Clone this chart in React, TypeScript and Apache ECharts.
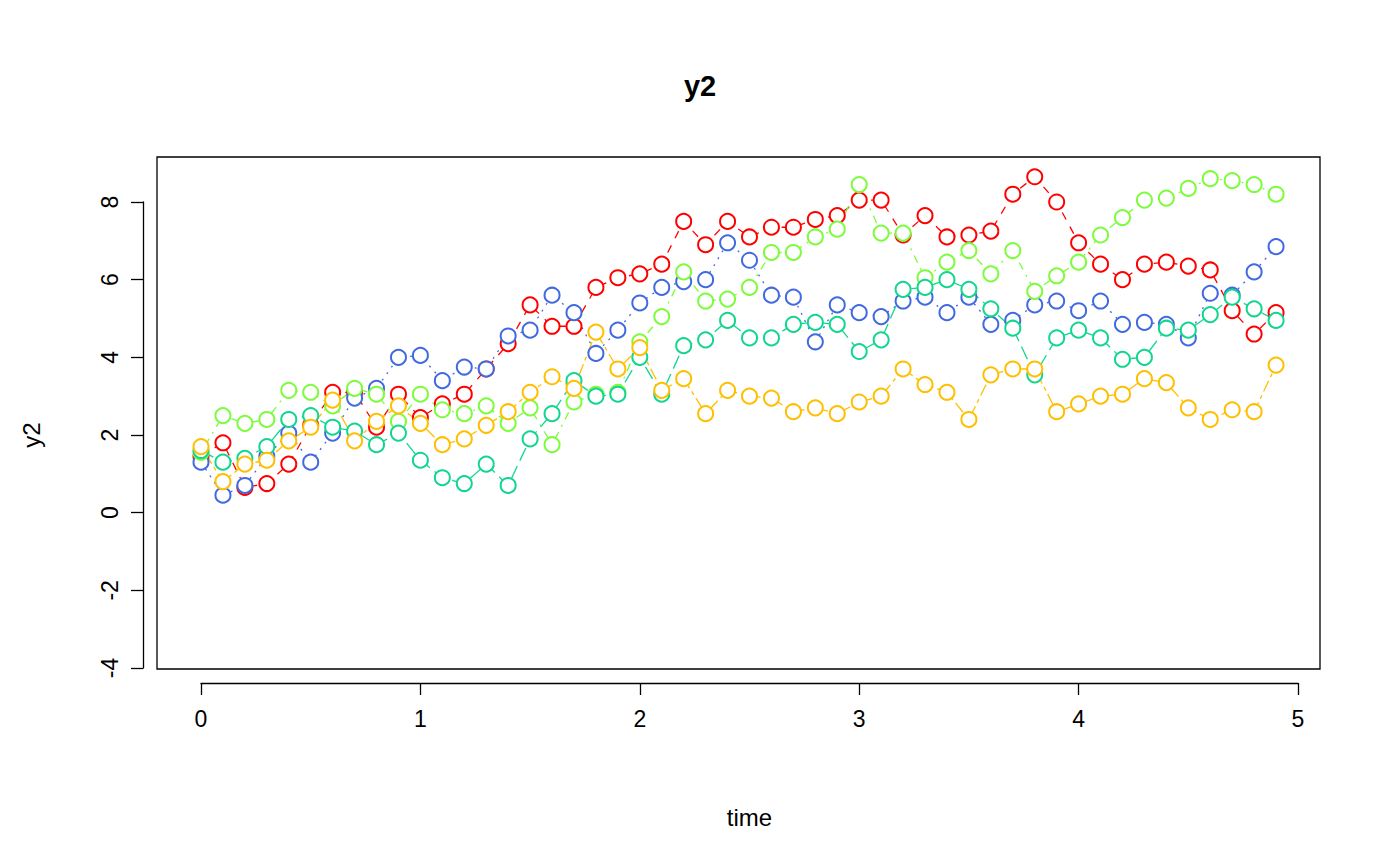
import React, { useEffect, useRef } from 'react';
import * as echarts from 'echarts';

const time = [
  0, 0.1, 0.2, 0.3, 0.4, 0.5, 0.6, 0.7, 0.8, 0.9, 1, 1.1, 1.2, 1.3, 1.4, 1.5, 1.6, 1.7, 1.8, 1.9,
  2, 2.1, 2.2, 2.3, 2.4, 2.5, 2.6, 2.7, 2.8, 2.9, 3, 3.1, 3.2, 3.3, 3.4, 3.5, 3.6, 3.7, 3.8, 3.9,
  4, 4.1, 4.2, 4.3, 4.4, 4.5, 4.6, 4.7, 4.8, 4.9,
];

const redSeries = [
  1.45, 1.8, 0.65, 0.75, 1.25, 2.25, 3.1, 3.1, 2.2, 3.05, 2.45, 2.8, 3.05, 3.7, 4.35, 5.35, 4.8, 4.8, 5.8, 6.05,
  6.15, 6.4, 7.5, 6.9, 7.5, 7.1, 7.35, 7.35, 7.55, 7.65, 8.05, 8.05, 7.15, 7.65, 7.1, 7.15, 7.25, 8.2, 8.65, 8.0,
  6.95, 6.4, 6.0, 6.4, 6.45, 6.35, 6.25, 5.2, 4.6, 5.15,
];
const blueSeries = [
  1.3, 0.45, 0.7, 1.45, 2.05, 1.3, 2.05, 2.95, 3.2, 4.0, 4.05, 3.4, 3.75, 3.7, 4.55, 4.7, 5.6, 5.15, 4.1, 4.7,
  5.4, 5.8, 5.95, 6.0, 6.95, 6.5, 5.6, 5.55, 4.4, 5.35, 5.15, 5.05, 5.45, 5.55, 5.15, 5.55, 4.85, 4.95, 5.35, 5.45,
  5.2, 5.45, 4.85, 4.9, 4.85, 4.5, 5.65, 5.6, 6.2, 6.85,
];
const limeSeries = [
  1.55, 2.5, 2.3, 2.4, 3.15, 3.1, 2.75, 3.2, 3.05, 2.35, 3.05, 2.65, 2.55, 2.75, 2.3, 2.7, 1.75, 2.85, 3.05, 3.1,
  4.4, 5.05, 6.2, 5.45, 5.5, 5.8, 6.7, 6.7, 7.1, 7.3, 8.45, 7.2, 7.2, 6.05, 6.45, 6.75, 6.15, 6.75, 5.7, 6.1,
  6.45, 7.15, 7.6, 8.05, 8.1, 8.35, 8.6, 8.55, 8.45, 8.2,
];
const tealSeries = [
  1.6, 1.3, 1.4, 1.7, 2.4, 2.5, 2.2, 2.1, 1.75, 2.05, 1.35, 0.9, 0.75, 1.25, 0.7, 1.9, 2.55, 3.4, 3.0, 3.05,
  4.0, 3.05, 4.3, 4.45, 4.95, 4.5, 4.5, 4.85, 4.9, 4.85, 4.15, 4.45, 5.75, 5.8, 6.0, 5.75, 5.25, 4.75, 3.55, 4.5,
  4.7, 4.5, 3.95, 4.0, 4.75, 4.7, 5.1, 5.55, 5.25, 4.95,
];
const orangeSeries = [
  1.7, 0.8, 1.25, 1.35, 1.85, 2.2, 2.9, 1.85, 2.35, 2.75, 2.3, 1.75, 1.9, 2.25, 2.6, 3.1, 3.5, 3.2, 4.65, 3.7,
  4.25, 3.15, 3.45, 2.55, 3.15, 3.0, 2.95, 2.6, 2.7, 2.55, 2.85, 3.0, 3.7, 3.3, 3.1, 2.4, 3.55, 3.7, 3.7, 2.6,
  2.8, 3.0, 3.05, 3.45, 3.35, 2.7, 2.4, 2.65, 2.6, 3.8,
];

const seriesList = [
  { values: redSeries, color: '#ff0000', dash: [8, 8] },
  { values: blueSeries, color: '#4169e1', dash: [2, 6] },
  { values: limeSeries, color: '#7cfc3c', dash: [2, 6, 8, 6] },
  { values: tealSeries, color: '#12d68f', dash: [14, 6] },
  { values: orangeSeries, color: '#ffbf00', dash: [4, 4, 12, 4] },
];

const FONT = 'Liberation Sans, Arial, sans-serif';

const App: React.FC = () => {
  const chartRef = useRef<HTMLDivElement | null>(null);

  useEffect(() => {
    if (!chartRef.current) return;
    const chart = echarts.init(chartRef.current, null, { renderer: 'svg' });

    const axisCommon = {
      axisLine: { show: true, onZero: false, lineStyle: { color: '#000', width: 1.3 } },
      axisTick: { show: true, length: 12, lineStyle: { color: '#000', width: 1.3 } },
      splitLine: { show: false },
    };

    // div sits inside the 8px body margin, so page coords are shifted by 8
    chart.setOption({
      animation: false,
      backgroundColor: '#fff',
      title: {
        text: 'y2',
        left: 'center',
        top: 58,
        textStyle: { fontFamily: FONT, fontSize: 29, fontWeight: 'bold', color: '#000' },
      },
      grid: { left: 193, right: 94, top: 194, bottom: 190 },
      xAxis: {
        type: 'value',
        min: 0,
        max: 5,
        interval: 1,
        offset: 15,
        name: 'time',
        nameLocation: 'middle',
        nameGap: 122,
        nameTextStyle: { fontFamily: FONT, fontSize: 24, color: '#000' },
        axisLabel: { fontFamily: FONT, fontSize: 23, color: '#000', margin: 24 },
        ...axisCommon,
      },
      yAxis: {
        type: 'value',
        min: -4,
        max: 8,
        interval: 2,
        offset: 58,
        name: 'y2',
        nameLocation: 'middle',
        nameGap: 100,
        nameTextStyle: { fontFamily: FONT, fontSize: 24, color: '#000' },
        axisLabel: { fontFamily: FONT, fontSize: 23, color: '#000', rotate: 90, margin: 22 },
        ...axisCommon,
      },
      graphic: [
        {
          type: 'rect',
          shape: { x: 149, y: 149, width: 1163, height: 512 },
          style: { fill: 'none', stroke: '#000', lineWidth: 1.3 },
          silent: true,
        },
      ],
      series: seriesList.map((s) => ({
        type: 'line',
        clip: false,
        data: time.map((t, i) => [t, s.values[i]]),
        symbol: 'emptyCircle',
        symbolSize: 15,
        itemStyle: { color: s.color, borderColor: s.color, borderWidth: 2 },
        lineStyle: { color: s.color, width: 1.3, type: s.dash },
      })),
    });

    return () => chart.dispose();
  }, []);

  return <div ref={chartRef} style={{ width: 1384, height: 850 }} />;
};

export default App;
